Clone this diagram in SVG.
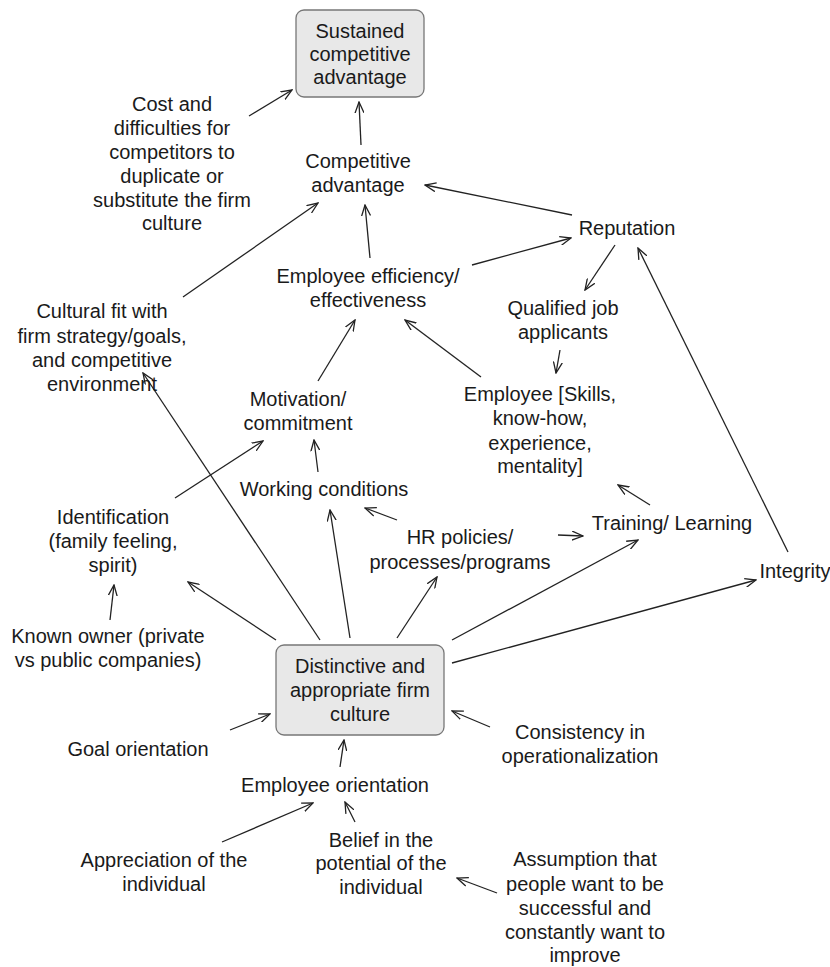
<svg xmlns="http://www.w3.org/2000/svg" width="830" height="967" viewBox="0 0 830 967">
  <defs>
    <marker id="arr" viewBox="0 0 12 10" refX="11" refY="5" markerWidth="12" markerHeight="10" markerUnits="userSpaceOnUse" orient="auto">
      <path d="M0,0.5 L11,5 L0,9.5" fill="none" stroke="#222" stroke-width="1.3"/>
    </marker>
  </defs>
  <style>
    text { font-family: "Liberation Sans", Arial, sans-serif; font-size: 20px; fill: #1a1a1a; text-anchor: middle; }
    .box { fill: #e8e8e8; stroke: #777; stroke-width: 1.3; }
    #edges line { stroke: #222; stroke-width: 1.3; marker-end: url(#arr); }
  </style>
  <rect width="830" height="967" fill="#fff"/>

  <g id="edges">
    <line x1="249" y1="116" x2="292" y2="90"/>
    <line x1="361" y1="145" x2="359" y2="102"/>
    <line x1="572" y1="215" x2="425" y2="185"/>
    <line x1="370" y1="258" x2="365" y2="205"/>
    <line x1="472" y1="265" x2="571" y2="238"/>
    <line x1="615" y1="245" x2="585" y2="290"/>
    <line x1="183" y1="297" x2="318" y2="203"/>
    <line x1="318" y1="381" x2="355" y2="320"/>
    <line x1="481" y1="377" x2="405" y2="320"/>
    <line x1="560" y1="350" x2="556" y2="373"/>
    <line x1="318" y1="472" x2="314" y2="440"/>
    <line x1="175" y1="498" x2="263" y2="441"/>
    <line x1="397" y1="520" x2="365" y2="508"/>
    <line x1="558" y1="535" x2="583" y2="536"/>
    <line x1="650" y1="505" x2="618" y2="485"/>
    <line x1="788" y1="552" x2="638" y2="248"/>
    <line x1="110" y1="620" x2="114" y2="585"/>
    <line x1="276" y1="640" x2="188" y2="582"/>
    <line x1="320" y1="640" x2="143" y2="373"/>
    <line x1="350" y1="638" x2="330" y2="510"/>
    <line x1="397" y1="638" x2="437" y2="577"/>
    <line x1="452" y1="640" x2="638" y2="540"/>
    <line x1="452" y1="663" x2="756" y2="580"/>
    <line x1="230" y1="730" x2="270" y2="714"/>
    <line x1="490" y1="727" x2="452" y2="711"/>
    <line x1="340" y1="767" x2="344" y2="740"/>
    <line x1="222" y1="842" x2="313" y2="803"/>
    <line x1="355" y1="822" x2="345" y2="802"/>
    <line x1="497" y1="893" x2="457" y2="878"/>
  </g>

  <g id="sustained">
    <rect class="box" x="296" y="10" width="128" height="87" rx="8"/>
    <text x="360" y="38">Sustained</text>
    <text x="360" y="61">competitive</text>
    <text x="360" y="84">advantage</text>
  </g>
  <g id="cost">
    <text x="172" y="111">Cost and</text>
    <text x="172" y="135">difficulties for</text>
    <text x="172" y="159">competitors to</text>
    <text x="172" y="183">duplicate or</text>
    <text x="172" y="207">substitute the firm</text>
    <text x="172" y="230">culture</text>
  </g>
  <g id="competitive">
    <text x="358" y="168">Competitive</text>
    <text x="358" y="192">advantage</text>
  </g>
  <g id="reputation">
    <text x="627" y="235">Reputation</text>
  </g>
  <g id="efficiency">
    <text x="368" y="283">Employee efficiency/</text>
    <text x="368" y="307">effectiveness</text>
  </g>
  <g id="applicants">
    <text x="563" y="315">Qualified job</text>
    <text x="563" y="339">applicants</text>
  </g>
  <g id="cultural-fit">
    <text x="102" y="318">Cultural fit with</text>
    <text x="102" y="343">firm strategy/goals,</text>
    <text x="102" y="367">and competitive</text>
    <text x="102" y="391">environment</text>
  </g>
  <g id="motivation">
    <text x="298" y="406">Motivation/</text>
    <text x="298" y="430">commitment</text>
  </g>
  <g id="employee">
    <text x="540" y="401">Employee [Skills,</text>
    <text x="540" y="425">know-how,</text>
    <text x="540" y="450">experience,</text>
    <text x="540" y="473">mentality]</text>
  </g>
  <g id="working-conditions">
    <text x="324" y="496">Working conditions</text>
  </g>
  <g id="identification">
    <text x="113" y="524">Identification</text>
    <text x="113" y="548">(family feeling,</text>
    <text x="113" y="572">spirit)</text>
  </g>
  <g id="hr">
    <text x="460" y="544">HR policies/</text>
    <text x="460" y="569">processes/programs</text>
  </g>
  <g id="training">
    <text x="672" y="530">Training/ Learning</text>
  </g>
  <g id="integrity">
    <text x="795" y="578">Integrity</text>
  </g>
  <g id="owner">
    <text x="108" y="643">Known owner (private</text>
    <text x="108" y="667">vs public companies)</text>
  </g>
  <g id="culture">
    <rect class="box" x="276" y="645" width="168" height="90" rx="8"/>
    <text x="360" y="673">Distinctive and</text>
    <text x="360" y="697">appropriate firm</text>
    <text x="360" y="721">culture</text>
  </g>
  <g id="goal">
    <text x="138" y="756">Goal orientation</text>
  </g>
  <g id="consistency">
    <text x="580" y="739">Consistency in</text>
    <text x="580" y="763">operationalization</text>
  </g>
  <g id="employee-orientation">
    <text x="335" y="792">Employee orientation</text>
  </g>
  <g id="appreciation">
    <text x="164" y="867">Appreciation of the</text>
    <text x="164" y="891">individual</text>
  </g>
  <g id="belief">
    <text x="381" y="847">Belief in the</text>
    <text x="381" y="870">potential of the</text>
    <text x="381" y="894">individual</text>
  </g>
  <g id="assumption">
    <text x="585" y="866">Assumption that</text>
    <text x="585" y="891">people want to be</text>
    <text x="585" y="915">successful and</text>
    <text x="585" y="939">constantly want to</text>
    <text x="585" y="962">improve</text>
  </g>
</svg>
